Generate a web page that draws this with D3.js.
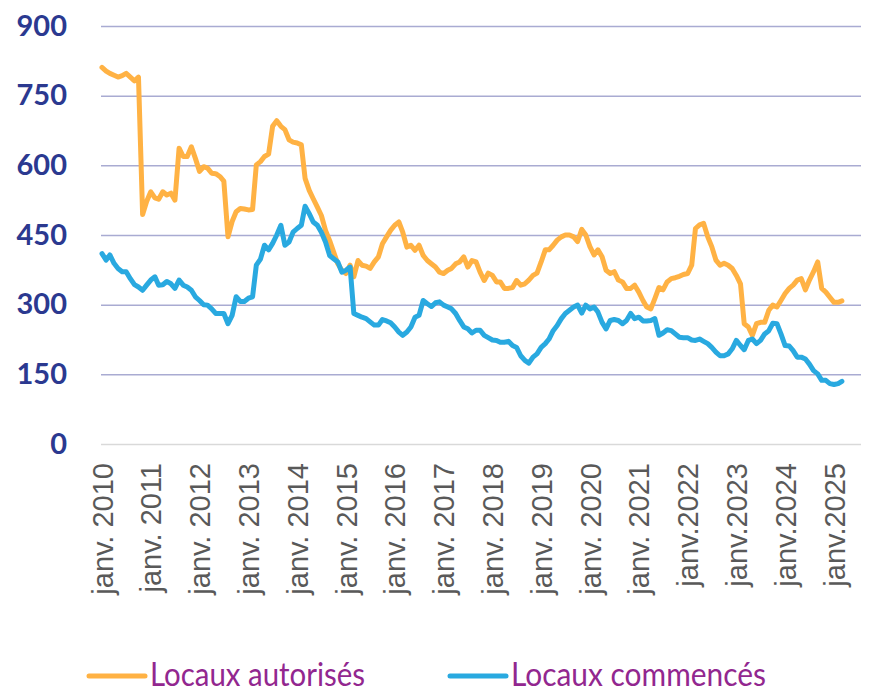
<!DOCTYPE html>
<html>
<head>
<meta charset="utf-8">
<script src="https://cdn.jsdelivr.net/npm/d3@7"></script>
<style>
  body { margin: 0; background: #fff; }
  .line { fill: none; stroke-width: 5px; stroke-linejoin: round; stroke-linecap: round; }
</style>
</head>
<body>
<script>
// monthly series, janv. 2010 -> mars 2025
var autorises = [811,803,798,794,790,793,798,790,782,790,494,522,
  543,530,527,543,536,540,525,637,619,619,640,615,
  587,597,594,583,582,576,566,446,479,500,507,506,
  504,505,601,608,619,624,684,696,684,677,655,650,
  648,644,572,546,528,510,492,460,438,413,388,374,
  367,385,360,395,385,383,378,392,403,431,446,460,
  471,478,456,424,428,417,428,406,395,388,381,370,
  367,374,378,388,392,403,381,395,392,370,352,368,
  363,349,349,335,335,337,352,342,345,353,363,368,
  392,418,418,428,439,446,450,450,446,436,462,450,
  425,407,418,403,374,367,371,353,349,335,335,342,
  327,309,295,291,313,337,332,349,356,358,361,365,
  367,385,464,472,475,446,425,396,385,389,385,378,
  363,345,259,252,234,259,262,262,288,299,295,309,
  324,335,342,353,356,332,353,371,392,335,327,316,
  305,305,308];

var commences = [410,396,407,389,378,371,371,356,343,338,331,342,
  353,360,342,343,350,345,335,353,342,338,331,317,
  309,300,299,291,281,281,281,259,277,317,307,307,
  314,317,385,398,428,418,432,450,471,428,435,456,
  464,471,512,496,478,471,456,435,406,399,392,370,
  374,381,281,277,273,270,263,256,256,268,265,261,
  252,241,234,241,252,273,277,309,302,296,304,306,
  299,295,291,281,266,252,248,239,245,245,234,229,
  224,223,219,219,221,212,208,190,180,174,187,194,
  208,216,226,244,255,270,281,288,295,299,282,299,
  291,295,284,262,248,266,268,266,259,266,281,270,
  273,265,265,266,270,234,239,246,244,237,230,229,
  229,224,223,226,221,216,208,198,190,190,194,205,
  223,212,203,223,226,216,223,237,244,260,259,237,
  212,211,201,187,187,183,172,158,151,137,137,130,
  128,130,135];

var yTicks = [0, 150, 300, 450, 600, 750, 900];
var xLabels = ["janv. 2010","janv. 2011","janv. 2012","janv. 2013","janv. 2014",
  "janv. 2015","janv. 2016","janv. 2017","janv. 2018","janv. 2019","janv. 2020",
  "janv. 2021","janv.2022","janv.2023","janv.2024","janv.2025"];
var seriesNames = ["Locaux autorisés", "Locaux commencés"];
var colors = ["#ffb244", "#29a9e0"];

var W = 874, H = 690;
var plot = {left: 101, right: 861, top: 26, bottom: 444};

var start = new Date(2010, 0, 1);
function toRows(arr) {
  return arr.map(function(v, i) { return {date: d3.timeMonth.offset(start, i), value: v}; });
}

var x = d3.scaleTime()
  .domain([start, new Date(2025, 0, 1)])
  .range([102, 834]);
var y = d3.scaleLinear()
  .domain([0, 900])
  .range([plot.bottom, plot.top]);

var svg = d3.select("body").append("svg")
  .attr("width", W)
  .attr("height", H);

// gridlines + y labels
var yAxis = svg.append("g")
  .attr("transform", "translate(" + plot.left + ",0)")
  .call(d3.axisLeft(y).tickValues(yTicks).tickSize(-(plot.right - plot.left)).tickPadding(34));
yAxis.select(".domain").remove();
yAxis.selectAll(".tick line")
  .attr("stroke", function(d) { return d === 0 ? "#d9d9d9" : "#a9abd2"; })
  .attr("stroke-width", 1.5);
yAxis.selectAll(".tick text")
  .attr("fill", "#2b3990")
  .style("font-family", "Lato, 'Noto Sans', sans-serif")
  .style("font-weight", "700")
  .style("font-size", "29px");

// x axis labels
var years = d3.range(2010, 2026).map(function(yr) { return new Date(yr, 0, 1); });
var xAxis = svg.append("g")
  .attr("transform", "translate(0," + plot.bottom + ")")
  .call(d3.axisBottom(x).tickValues(years).tickSize(0)
    .tickFormat(function(d, i) { return xLabels[i]; }));
xAxis.select(".domain").remove();
xAxis.selectAll(".tick text")
  .attr("transform", "rotate(-90)")
  .attr("text-anchor", "end")
  .attr("x", -19)
  .attr("y", 0)
  .attr("dy", "0.35em")
  .attr("fill", "#595959")
  .style("font-family", "'Liberation Sans', Arial, sans-serif")
  .style("font-size", "29px");

// lines
var line = d3.line()
  .x(function(d) { return x(d.date); })
  .y(function(d) { return y(d.value); });

[autorises, commences].forEach(function(s, i) {
  svg.append("path")
    .datum(toRows(s))
    .attr("class", "line")
    .attr("stroke", colors[i])
    .attr("d", line);
});

// legend
var legendX = [89, 450];
var legend = svg.selectAll(".legend")
  .data(seriesNames)
  .enter()
  .append("g")
  .attr("class", "legend")
  .attr("transform", function(d, i) { return "translate(" + legendX[i] + ",676)"; });

legend.append("line")
  .attr("x1", 0).attr("x2", 56)
  .attr("stroke", function(d, i) { return colors[i]; })
  .attr("stroke-width", 5)
  .attr("stroke-linecap", "round");

legend.append("text")
  .attr("x", 61)
  .attr("y", 10)
  .attr("fill", "#92278f")
  .attr("textLength", function(d, i) { return i === 0 ? 215 : 255; })
  .attr("lengthAdjust", "spacingAndGlyphs")
  .style("font-family", "Lato, 'Noto Sans', sans-serif")
  .style("font-size", "32px")
  .text(function(d) { return d; });
</script>
</body>
</html>
